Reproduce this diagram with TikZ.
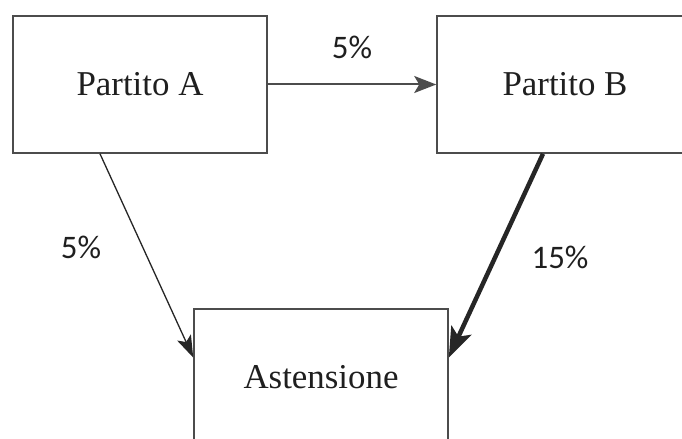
\documentclass[tikz,border=0pt]{standalone}
\usepackage{fontspec}
\setmainfont{Liberation Serif}
\newfontfamily\labfont{Carlito}
\usetikzlibrary{arrows.meta}
\definecolor{boxline}{gray}{0.3}
\definecolor{arrowc}{gray}{0.15}
\definecolor{txt}{gray}{0.12}
\tikzset{
  partybox/.style={draw=boxline, line width=1.6bp, minimum height=137bp, inner sep=0pt,
    text=txt, font=\fontsize{35}{40}\selectfont},
  pctlabel/.style={text=txt, font=\labfont\fontsize{33}{38}\selectfont, inner sep=0pt},
  thinarrow/.style={draw=arrowc, line width=1.3bp, -{Stealth[length=22bp,width=15bp,inset=5bp]}},
  midarrow/.style={draw=boxline, line width=2bp, -{Stealth[length=22bp,width=17bp,inset=5bp]}},
  thickarrow/.style={draw=arrowc, line width=4.5bp, -{Stealth[length=30bp,width=22bp,inset=7bp]}}
}
\begin{document}
\begin{tikzpicture}[x=1bp,y=-1bp]
\useasboundingbox (0,0) rectangle (682,439);
\clip (0,0) rectangle (682,439);
\fill[white] (0,0) rectangle (682,439);
\node[partybox, minimum width=254bp] (A) at (140,84.5) {Partito A};
\node[partybox, minimum width=256bp] (B) at (565,84.5) {Partito B};
\node[partybox, minimum width=254bp] (C) at (321,377.5) {Astensione};
\draw[midarrow] (A.east) -- (B.west);
\draw[thinarrow] ([xshift=-40bp]A.south) -- ([yshift=20bp]C.west);
\draw[thickarrow] ([xshift=-22bp]B.south) -- ([yshift=20bp]C.east);
\node[pctlabel] (l1) at (352,47) {5\%};
\node[pctlabel] (l2) at (81,247) {5\%};
\node[pctlabel] (l3) at (560,257) {15\%};
\end{tikzpicture}
\end{document}
